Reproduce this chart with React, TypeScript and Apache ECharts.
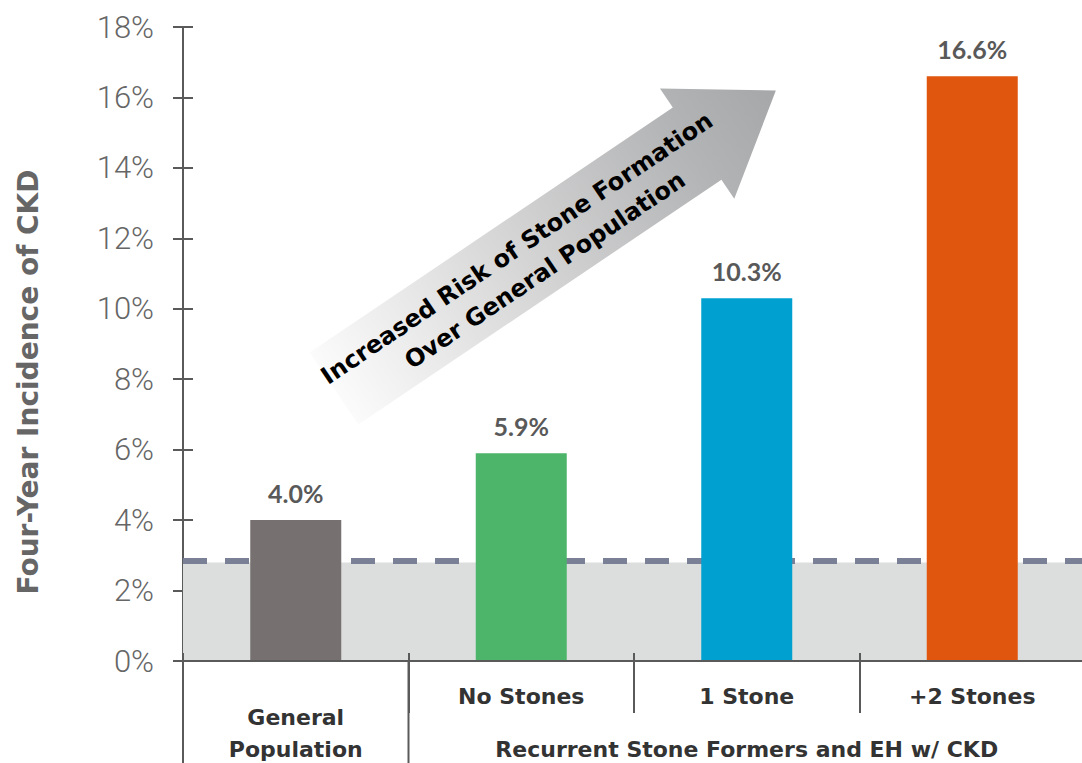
import React, { useEffect, useRef } from 'react';
import * as echarts from 'echarts';

const categories = ['General Population', 'No Stones', '1 Stone', '+2 Stones'];
const groupLabels = ['General\nPopulation', '', 'Recurrent Stone Formers and EH w/ CKD', ''];
const values = [4.0, 5.9, 10.3, 16.6];
const barColors = ['#767170', '#4cb569', '#00a0d0', '#e0560f'];
const bandTop = 2.8;
const referenceValue = 2.86;
const yMin = 0;
const yMax = 18;
const yStep = 2;
const yTitle = 'Four-Year Incidence of CKD';
const arrowLines = ['Increased Risk of Stone Formation', 'Over General Population'];

const AXIS_COLOR = '#5a5a5a';

export default function App() {
  const ref = useRef<HTMLDivElement>(null);

  useEffect(() => {
    if (!ref.current) return;
    const chart = echarts.init(ref.current, null, { renderer: 'svg' });
    const option: any = {
      animation: false,
      grid: {
        left: 183,
        top: 27,
        right: -3,
        bottom: 102,
        containLabel: false,
        outerBoundsMode: 'none',
      },
      xAxis: [
        {
          type: 'category',
          data: categories,
          position: 'bottom',
          z: 5,
          axisLine: { show: true, lineStyle: { color: AXIS_COLOR, width: 2 } },
          axisTick: { show: true, inside: false, length: 52, lineStyle: { color: AXIS_COLOR, width: 2 } },
          axisLabel: {
            interval: 0,
            margin: 24,
            verticalAlign: 'top',
            formatter: (v: string, i: number) => (i === 0 ? '' : v),
            fontFamily: 'DejaVu Sans',
            fontWeight: 'bold',
            fontSize: 22,
            color: '#333333',
          },
          splitLine: { show: false },
        },
        {
          type: 'category',
          data: categories,
          position: 'bottom',
          z: 5,
          axisLine: { show: true, lineStyle: { color: AXIS_COLOR, width: 2 } },
          axisTick: { show: true, inside: true, length: 8, lineStyle: { color: AXIS_COLOR, width: 2 } },
          axisLabel: {
            interval: 0,
            margin: 104,
            verticalAlign: 'bottom',
            lineHeight: 32,
            formatter: (_v: string, i: number) => groupLabels[i],
            fontFamily: 'DejaVu Sans',
            fontWeight: 'bold',
            fontSize: 22,
            color: '#333333',
          },
          splitLine: { show: false },
        },
      ],
      yAxis: [
        {
          type: 'value',
          min: yMin,
          max: yMax,
          interval: yStep,
          position: 'left',
          axisLine: { show: true, lineStyle: { color: AXIS_COLOR, width: 2 } },
          axisTick: { show: true, inside: false, length: 10, lineStyle: { color: AXIS_COLOR, width: 2 } },
          splitLine: { show: false },
          axisLabel: {
            formatter: '{value}%',
            margin: 29,
            fontFamily: 'Roboto',
            fontWeight: 300,
            fontSize: 31,
            color: '#666666',
          },
          name: yTitle,
          nameLocation: 'middle',
          nameRotate: 90,
          nameGap: 141,
          nameTextStyle: {
            fontFamily: 'DejaVu Sans',
            fontWeight: 'bold',
            fontSize: 28,
            color: '#666666',
            padding: [0, 76, 0, 0],
          },
        },
        {
          type: 'value',
          min: yMin,
          max: yMax,
          interval: yStep,
          position: 'left',
          axisLine: { show: true, lineStyle: { color: AXIS_COLOR, width: 2 } },
          axisTick: { show: true, inside: true, length: 10, lineStyle: { color: AXIS_COLOR, width: 2 } },
          splitLine: { show: false },
          axisLabel: { show: false },
        },
      ],
      series: [
        {
          type: 'line',
          data: [],
          xAxisIndex: 0,
          yAxisIndex: 0,
          z: 1,
          silent: true,
          markArea: {
            z: 1,
            silent: true,
            itemStyle: { color: '#dcdedd' },
            data: [[{ yAxis: yMin }, { yAxis: bandTop }]],
          },
          markLine: {
            z: 1,
            silent: true,
            symbol: ['none', 'none'],
            label: { show: false },
            lineStyle: { color: '#7a8096', width: 6, type: [24, 18] },
            data: [{ yAxis: referenceValue }],
          },
        },
        {
          type: 'bar',
          xAxisIndex: 0,
          yAxisIndex: 0,
          z: 3,
          barWidth: 91,
          data: values.map((v, i) => ({ value: v, itemStyle: { color: barColors[i] } })),
          label: {
            show: true,
            position: 'top',
            distance: 15,
            formatter: (p: any) => `${Number(p.value).toFixed(1)}%`,
            fontFamily: 'Lato',
            fontWeight: 'bold',
            fontSize: 25,
            color: '#595959',
          },
        },
      ],
    };
    chart.setOption(option);

    const x0 = chart.convertToPixel({ xAxisIndex: 0 }, categories[0]) as number;
    const x1 = chart.convertToPixel({ xAxisIndex: 0 }, categories[1]) as number;
    const yZero = chart.convertToPixel({ yAxisIndex: 0 }, yMin) as number;
    const half = (x1 - x0) / 2;
    const bottom = 763;

    const ang = (34 * Math.PI) / 180;
    chart.setOption({
      graphic: [
        {
          type: 'line',
          z: 10,
          shape: { x1: x0 - half, y1: yZero, x2: x0 - half, y2: bottom },
          style: { stroke: AXIS_COLOR, lineWidth: 2 },
        },
        {
          type: 'line',
          z: 10,
          shape: { x1: x1 - half, y1: yZero, x2: x1 - half, y2: bottom },
          style: { stroke: AXIS_COLOR, lineWidth: 2 },
        },
        {
          type: 'group',
          x: 334,
          y: 388.5,
          rotation: ang,
          z: 20,
          children: [
            {
              type: 'polygon',
              shape: {
                points: [
                  [0, -43.5],
                  [438, -43.5],
                  [438, -66.5],
                  [533, 0],
                  [438, 66.5],
                  [438, 43.5],
                  [0, 43.5],
                ],
              },
              style: {
                fill: new echarts.graphic.LinearGradient(0, 0, 1, 0, [
                  { offset: 0, color: '#fbfbfb' },
                  { offset: 0.45, color: '#d3d3d4' },
                  { offset: 0.8, color: '#b3b4b5' },
                  { offset: 1, color: '#a6a7a9' },
                ]),
              },
            },
            {
              type: 'text',
              x: 230,
              y: -14,
              style: {
                text: arrowLines[0],
                fontFamily: 'DejaVu Sans',
                fontWeight: 'bold',
                fontSize: 24,
                fill: '#000000',
                align: 'center',
                verticalAlign: 'middle',
              },
            },
            {
              type: 'text',
              x: 241,
              y: 20,
              style: {
                text: arrowLines[1],
                fontFamily: 'DejaVu Sans',
                fontWeight: 'bold',
                fontSize: 24,
                fill: '#000000',
                align: 'center',
                verticalAlign: 'middle',
              },
            },
          ],
        },
      ],
    });

    return () => chart.dispose();
  }, []);

  return (
    <div
      ref={ref}
      style={{ position: 'absolute', left: 0, top: 0, width: 1082, height: 763, background: '#ffffff' }}
    />
  );
}
